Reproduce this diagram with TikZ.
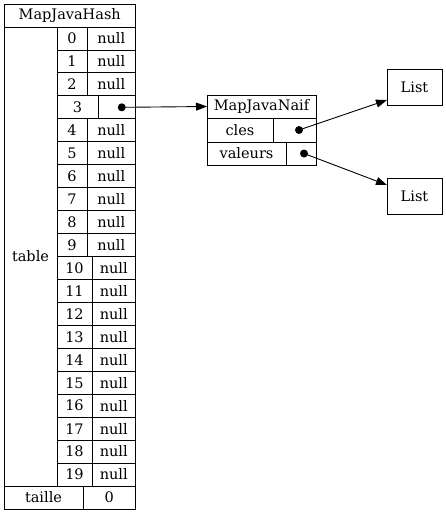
\documentclass[tikz,border=0pt]{standalone}
\usepackage{fontspec}
\setmainfont{DejaVu Serif}
\usetikzlibrary{arrows.meta,calc}
\tikzset{
  cell/.style={draw=black, line width=0.9pt, anchor=north west, inner sep=0pt, outer sep=0pt,
    font=\fontsize{14.5}{17}\selectfont},
  ptrdot/.style={fill=black},
  link/.style={draw=black, line width=0.9pt, -{Triangle[length=11pt,width=8pt]}},
}
\begin{document}
\begin{tikzpicture}[x=1pt,y=-1pt]
\useasboundingbox (0,0) rectangle (446,515);
% MapJavaHash record
\node[cell, minimum width=131.5pt, minimum height=23pt] (hash) at (4,4) {MapJavaHash};
\node[cell, minimum width=53pt, minimum height=459pt] (table) at (4,27) {table};
\foreach \i in {0,...,19}{
  \pgfmathsetmacro{\yy}{27+22.95*\i}
  \ifnum\i=3
    \def\ww{41}
  \else
    \ifnum\i>9 \def\ww{35}\else\def\ww{30}\fi
  \fi
  \pgfmathsetmacro{\nw}{135.5-57-\ww}
  \node[cell, minimum width=\ww pt, minimum height=22.95pt] (i\i) at (57,\yy) {\i};
  \ifnum\i=3
    \node[cell, minimum width=\nw pt, minimum height=22.95pt] (p\i) at (57+\ww,\yy) {};
  \else
    \node[cell, minimum width=\nw pt, minimum height=22.95pt] (p\i) at (57+\ww,\yy) {null};
  \fi
}
\node[cell, minimum width=79pt, minimum height=23pt] (taille) at (4,486) {taille};
\node[cell, minimum width=52.5pt, minimum height=23pt] (tval) at (83,486) {0};
% MapJavaNaif record
\node[cell, minimum width=109pt, minimum height=23pt] (naif) at (207,95) {MapJavaNaif};
\node[cell, minimum width=66pt, minimum height=24pt] (cles) at (207,118) {cles};
\node[cell, minimum width=43pt, minimum height=24pt] (clesp) at (273,118) {};
\node[cell, minimum width=79pt, minimum height=23pt] (val) at (207,142) {valeurs};
\node[cell, minimum width=30pt, minimum height=23pt] (valp) at (286,142) {};
% List nodes
\node[cell, minimum width=55pt, minimum height=36pt] (l1) at (387,69) {List};
\node[cell, minimum width=55pt, minimum height=36pt] (l2) at (387,178) {List};
% pointers
\coordinate (d3) at ($(p3.center)+(5,0)$);
\coordinate (dc) at ($(clesp.center)+(4.5,0)$);
\coordinate (dv) at ($(valp.center)+(3,0)$);
\fill[ptrdot] (d3) circle (4);
\fill[ptrdot] (dc) circle (4);
\fill[ptrdot] (dv) circle (4);
\draw[link] (d3) -- (naif.west);
\draw[link] (dc) -- ([yshift=5pt]l1.south west);
\draw[link] (dv) -- ([yshift=-7pt]l2.north west);
\end{tikzpicture}
\end{document}
